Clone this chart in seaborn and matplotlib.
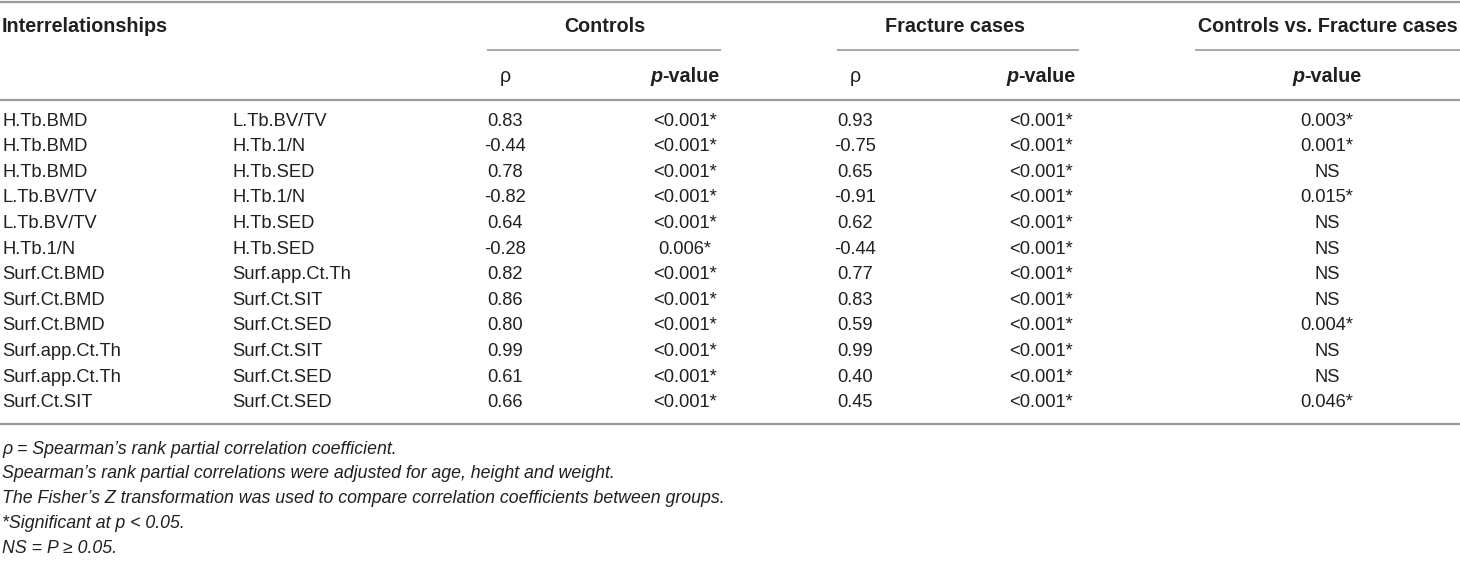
import matplotlib
matplotlib.use("Agg")
import matplotlib.pyplot as plt
import seaborn as sns

sns.set_theme(style="white")
plt.rcParams['font.family'] = ['Liberation Sans Narrow', 'Liberation Sans', 'DejaVu Sans']

# ---- data ----
var_a = ["H.Tb.BMD", "H.Tb.BMD", "H.Tb.BMD", "L.Tb.BV/TV", "L.Tb.BV/TV", "H.Tb.1/N",
         "Surf.Ct.BMD", "Surf.Ct.BMD", "Surf.Ct.BMD", "Surf.app.Ct.Th", "Surf.app.Ct.Th", "Surf.Ct.SIT"]
var_b = ["L.Tb.BV/TV", "H.Tb.1/N", "H.Tb.SED", "H.Tb.1/N", "H.Tb.SED", "H.Tb.SED",
         "Surf.app.Ct.Th", "Surf.Ct.SIT", "Surf.Ct.SED", "Surf.Ct.SIT", "Surf.Ct.SED", "Surf.Ct.SED"]
controls_rho = ["0.83", "-0.44", "0.78", "-0.82", "0.64", "-0.28", "0.82", "0.86", "0.80", "0.99", "0.61", "0.66"]
controls_p = ["<0.001*"] * 5 + ["0.006*"] + ["<0.001*"] * 6
fracture_rho = ["0.93", "-0.75", "0.65", "-0.91", "0.62", "-0.44", "0.77", "0.83", "0.59", "0.99", "0.40", "0.45"]
fracture_p = ["<0.001*"] * 12
compare_p = ["0.003*", "0.001*", "NS", "0.015*", "NS", "NS", "NS", "NS", "0.004*", "NS", "NS", "0.046*"]
group_headers = ["Controls", "Fracture cases", "Controls vs. Fracture cases"]
footnotes = [
    "\u03c1 = Spearman\u2019s rank partial correlation coefficient.",
    "Spearman\u2019s rank partial correlations were adjusted for age, height and weight.",
    "The Fisher\u2019s Z transformation was used to compare correlation coefficients between groups.",
    "*Significant at p < 0.05.",
    "NS = P \u2265 0.05.",
]

W, H = 1460, 583
fig = plt.figure(figsize=(W / 100, H / 100), dpi=100)
ax = fig.add_axes([0, 0, 1, 1])
ax.set_xlim(0, W)
ax.set_ylim(H, 0)
ax.axis("off")

TXT = "#231f20"
LINE = "#9a9a9a"
FS = 13.2
FSB = 14.2
FSF = 12.8

# lines
ax.hlines([2, 100, 424], 0, W, color=LINE, lw=1.6)
group_spans = [(487, 721), (837, 1079), (1195, 1460)]
for (a, b) in group_spans:
    ax.hlines(50, a, b, color=LINE, lw=1.2)

# header
ax.text(2, 27, "Interrelationships", ha="left", va="center", fontsize=FSB, fontweight="bold", color=TXT)
group_centers = [605, 955, 1328]
for gx, g in zip(group_centers, group_headers):
    ax.text(gx, 27, g, ha="center", va="center", fontsize=FSB, fontweight="bold", color=TXT)

col_x = [505, 685, 855, 1041, 1327]
fig.canvas.draw()
renderer = fig.canvas.get_renderer()


def pvalue_header(xc, y):
    t1 = ax.text(0, y, "p", ha="left", va="center", fontsize=FSB, fontweight="bold",
                 fontstyle="italic", color=TXT)
    t2 = ax.text(0, y, "-value", ha="left", va="center", fontsize=FSB, fontweight="bold", color=TXT)
    w1 = t1.get_window_extent(renderer).width
    w2 = t2.get_window_extent(renderer).width
    x0 = xc - (w1 + w2) / 2
    t1.set_x(x0)
    t2.set_x(x0 + w1)


ax.text(col_x[0], 77, "\u03c1", ha="center", va="center", fontsize=FSB, color=TXT)
ax.text(col_x[2], 77, "\u03c1", ha="center", va="center", fontsize=FSB, color=TXT)
pvalue_header(col_x[1], 77)
pvalue_header(col_x[3], 77)
pvalue_header(col_x[4], 77)

# rows
y0, dy = 121, 25.6
cols = [controls_rho, controls_p, fracture_rho, fracture_p, compare_p]
for i in range(len(var_a)):
    y = y0 + i * dy
    ax.text(2, y, var_a[i], ha="left", va="center", fontsize=FS, color=TXT)
    ax.text(232, y, var_b[i], ha="left", va="center", fontsize=FS, color=TXT)
    for cx, col in zip(col_x, cols):
        ax.text(cx, y, col[i], ha="center", va="center", fontsize=FS, color=TXT)

# footnotes
fy0, fdy = 449, 24.8
for j, f in enumerate(footnotes):
    ax.text(2, fy0 + j * fdy, f, ha="left", va="center", fontsize=FSF, fontstyle="italic", color=TXT)

fig.savefig("out.png", dpi=100)
